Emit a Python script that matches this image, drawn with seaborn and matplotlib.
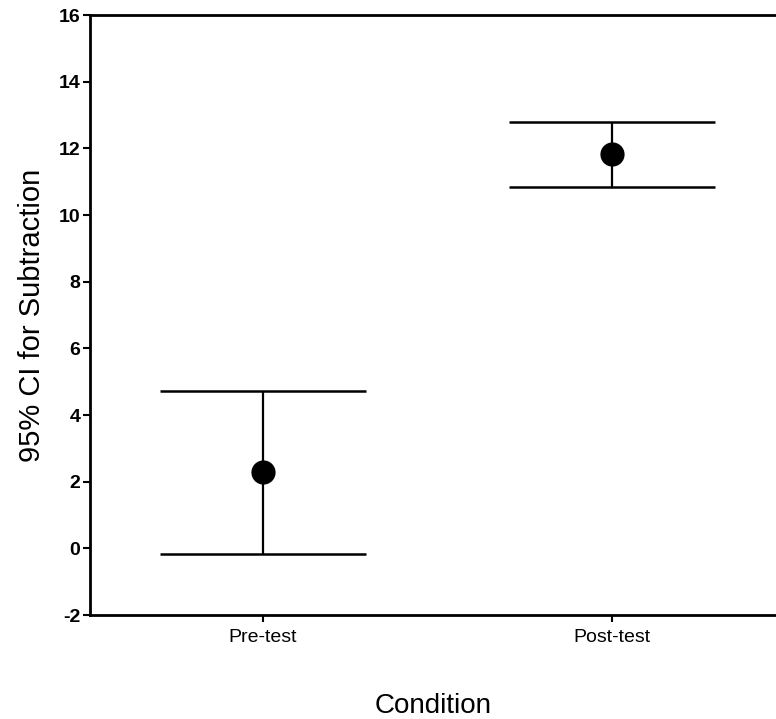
import matplotlib
matplotlib.use("Agg")
import matplotlib.pyplot as plt
import seaborn as sns
import pandas as pd

conditions = ["Pre-test", "Post-test"]
means = [2.28, 11.83]
lower = [-0.17, 10.83]
upper = [4.73, 12.80]
yticks = [-2, 0, 2, 4, 6, 8, 10, 12, 14, 16]

sns.set_theme(style="white", rc={"text.color": "black", "axes.labelcolor": "black",
                                  "xtick.color": "black", "ytick.color": "black"})
plt.rcParams['font.family'] = ['Liberation Sans', 'DejaVu Sans']

df = pd.DataFrame({"Condition": conditions, "mean": means, "lo": lower, "hi": upper})

fig = plt.figure(figsize=(7.76, 7.19), dpi=100)
ax = fig.add_axes([90/776, 1 - 615/719, 1 - 90/776, (615 - 15)/719])

pos = list(range(len(conditions)))
half = 0.295
ax.vlines(pos, df["lo"], df["hi"], color="black", lw=1.6, zorder=2)
ax.hlines(df["lo"], [p - half for p in pos], [p + half for p in pos], color="black", lw=1.8, zorder=2)
ax.hlines(df["hi"], [p - half for p in pos], [p + half for p in pos], color="black", lw=1.8, zorder=2)
sns.scatterplot(x=pos, y=df["mean"], ax=ax, s=260, color="black", edgecolor="black", zorder=3, legend=False)

ax.set_xlim(-0.496, 1.47)
ax.set_ylim(-2, 16)
ax.set_xticks(pos)
ax.set_xticklabels(conditions, fontsize=14)
ax.set_yticks(yticks)
ax.set_yticklabels([str(t) for t in yticks], fontsize=14, fontweight="bold")
ax.tick_params(axis="both", direction="out", length=5, width=1.5, color="black", left=True, bottom=True)
ax.tick_params(axis="x", pad=5)
ax.tick_params(axis="y", pad=2)
for side in ["left", "bottom", "top"]:
    ax.spines[side].set_color("black")
    ax.spines[side].set_linewidth(2)
ax.spines["right"].set_visible(False)

ax.set_xlabel("Condition", fontsize=20, labelpad=34)
ax.set_ylabel("95% CI for Subtraction", fontsize=21, labelpad=9)

fig.savefig("out.png", dpi=100)
